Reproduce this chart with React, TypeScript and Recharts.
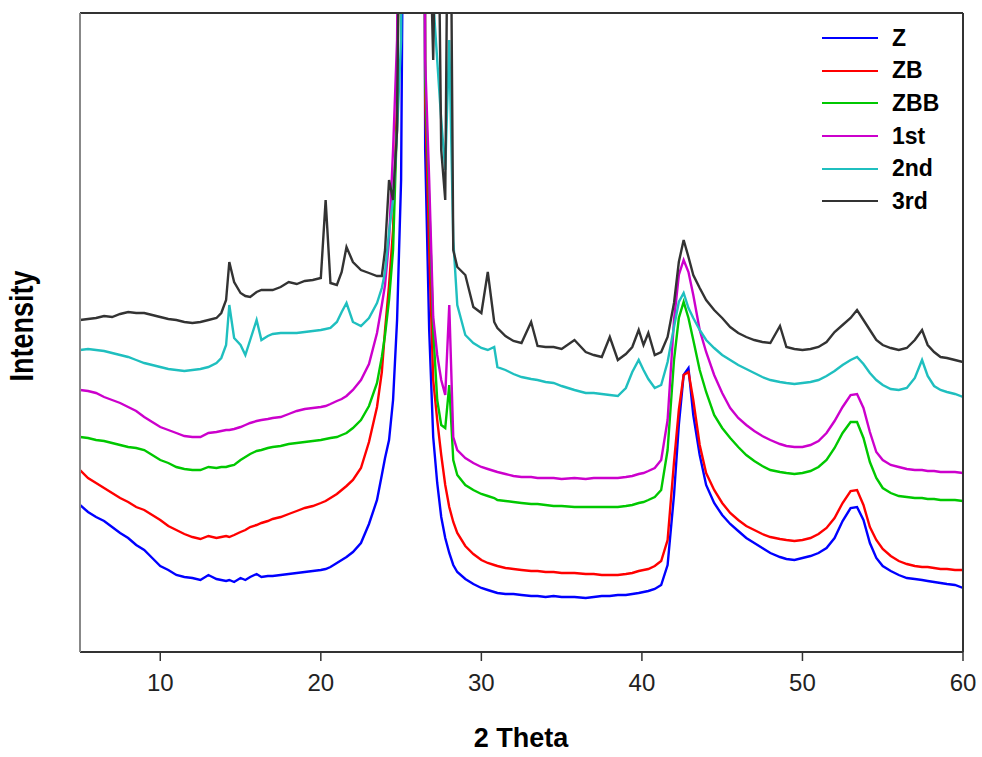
import { LineChart, Line, XAxis, YAxis, Legend, Label } from "recharts";

// 2 theta sampling positions (degrees)
const twoTheta = [
  5, 5.5, 6, 6.5, 7, 7.5, 8, 8.5, 9, 9.5,
  10, 10.5, 11, 11.5, 12, 12.5, 13, 13.5, 13.8, 14.1,
  14.3, 14.6, 15, 15.3, 15.6, 16, 16.3, 16.7, 17, 17.5,
  18, 18.5, 19, 19.5, 20, 20.3, 20.6, 21, 21.3, 21.6,
  22, 22.5, 23, 23.5, 23.8, 24, 24.25, 24.5, 24.75, 25,
  25.25, 25.75, 26.25, 26.5, 26.75, 27, 27.25, 27.5, 27.75, 28,
  28.25, 28.5, 29, 29.5, 30, 30.4, 30.8, 31, 31.5, 32,
  32.5, 33.1, 33.5, 34, 34.5, 35, 35.8, 36.5, 37, 37.5,
  38, 38.5, 39, 39.4, 39.8, 40.1, 40.4, 40.8, 41.2, 41.6,
  42, 42.3, 42.6, 42.9, 43.2, 43.6, 44, 44.5, 45, 45.5,
  46, 46.5, 47, 47.5, 48, 48.6, 49, 49.5, 50, 50.5,
  51, 51.5, 52, 52.5, 53, 53.4, 53.8, 54.2, 54.6, 55,
  55.5, 56, 56.5, 57, 57.45, 57.8, 58.2, 58.6, 59, 59.5,
  60,
];

// intensities (a.u.)
const zVals = [
  147, 140, 135, 131, 125, 119, 114, 107, 102, 94,
  86, 82, 77, 75, 74, 72, 77, 73, 72, 71,
  72, 70, 74, 72, 75, 78, 75, 76, 76, 77,
  78, 79, 80, 81, 82, 83, 85, 89, 92, 95,
  100, 109, 128, 152, 177, 194, 212, 252, 332, 472,
  1052, 2152, 2152, 502, 322, 215, 169, 135, 114, 99,
  87, 80, 73, 68, 64, 62, 60, 59, 58, 58,
  57, 56, 56, 55, 56, 55, 55, 54, 55, 56,
  56, 57, 57, 58, 59, 60, 61, 63, 67, 87,
  157, 227, 277, 284, 237, 197, 167, 149, 137, 128,
  121, 114, 109, 104, 99, 95, 93, 92, 94, 96,
  99, 104, 114, 131, 144, 145, 132, 109, 94, 86,
  81, 77, 74, 73, 72, 71, 70, 69, 68, 67,
  64,
];

const zbVals = [
  182, 174, 169, 164, 159, 154, 150, 145, 142, 137,
  132, 126, 122, 118, 115, 113, 116, 114, 115, 116,
  115, 117, 120, 122, 125, 127, 129, 131, 133, 135,
  138, 141, 144, 146, 149, 151, 154, 158, 162, 166,
  172, 184, 210, 245, 280, 322, 367, 422, 552, 952,
  1652, 2152, 2152, 552, 402, 272, 232, 197, 167, 145,
  130, 119, 106, 98, 92, 89, 87, 86, 84, 83,
  82, 81, 81, 80, 80, 79, 79, 78, 78, 77,
  77, 77, 78, 79, 81, 82, 83, 86, 91, 112,
  190, 242, 277, 280, 252, 207, 179, 162, 149, 139,
  132, 126, 122, 118, 115, 113, 112, 111, 112, 114,
  118, 124, 134, 149, 161, 162, 147, 125, 112, 103,
  96, 91, 88, 86, 85, 85, 84, 83, 83, 82,
  82,
];

const zbbVals = [
  215, 214, 212, 211, 209, 207, 205, 204, 202, 197,
  192, 189, 185, 183, 182, 182, 185, 184, 185, 185,
  186, 187, 192, 195, 198, 201, 202, 204, 205, 206,
  208, 209, 210, 211, 212, 213, 214, 215, 217, 219,
  224, 232, 246, 269, 295, 317, 352, 402, 532, 952,
  1652, 2152, 2152, 572, 452, 322, 252, 227, 224, 267,
  192, 177, 167, 162, 158, 156, 154, 152, 151, 150,
  149, 148, 148, 147, 146, 146, 145, 145, 145, 145,
  145, 145, 146, 147, 149, 150, 152, 155, 162, 202,
  292, 334, 350, 334, 312, 282, 260, 237, 224, 214,
  205, 197, 191, 186, 182, 180, 179, 178, 179, 181,
  185, 192, 204, 219, 230, 230, 214, 190, 174, 164,
  159, 156, 155, 154, 154, 153, 153, 152, 152, 152,
  151,
];

const firstVals = [
  262, 261, 259, 255, 252, 249, 245, 241, 235, 230,
  225, 222, 219, 216, 215, 215, 219, 220, 221, 222,
  222, 223, 225, 227, 229, 231, 232, 233, 234, 235,
  238, 241, 243, 244, 245, 246, 248, 251, 253, 256,
  262, 272, 288, 319, 347, 367, 412, 502, 612, 1052,
  1652, 2152, 2152, 592, 472, 335, 297, 272, 257, 347,
  215, 202, 194, 189, 185, 183, 181, 180, 178, 176,
  175, 175, 174, 174, 174, 173, 174, 173, 174, 174,
  174, 174, 175, 176, 178, 179, 181, 184, 192, 232,
  332, 377, 392, 380, 357, 322, 300, 277, 259, 244,
  234, 227, 221, 216, 212, 208, 206, 205, 205, 207,
  211, 219, 231, 245, 257, 258, 244, 220, 200, 192,
  187, 185, 183, 182, 182, 181, 181, 180, 180, 180,
  179,
];

const secondVals = [
  302, 303, 302, 301, 299, 297, 295, 292, 289, 287,
  285, 283, 282, 281, 282, 283, 285, 289, 294, 307,
  347, 314, 307, 297, 312, 332, 312, 316, 318, 319,
  319, 319, 320, 321, 322, 323, 324, 330, 340, 349,
  330, 326, 334, 349, 364, 380, 420, 452, 522, 612,
  1252, 2152, 2152, 952, 752, 652, 592, 532, 482, 612,
  412, 347, 317, 309, 304, 302, 305, 285, 282, 278,
  275, 273, 272, 270, 269, 266, 262, 259, 259, 258,
  257, 256, 264, 280, 292, 282, 273, 264, 267, 290,
  325, 350, 359, 344, 334, 322, 312, 304, 297, 292,
  287, 283, 279, 275, 272, 270, 269, 268, 269, 270,
  272, 276, 281, 287, 292, 295, 288, 279, 272, 267,
  263, 262, 264, 274, 292, 276, 266, 262, 260, 258,
  255,
];

const thirdVals = [
  332, 333, 334, 336, 335, 338, 340, 339, 339, 337,
  335, 333, 332, 330, 329, 330, 332, 334, 339, 352,
  390, 370, 359, 356, 355, 360, 362, 362, 362, 365,
  370, 368, 371, 372, 374, 452, 369, 367, 380, 405,
  390, 382, 379, 376, 376, 402, 472, 452, 522, 952,
  1652, 2152, 2152, 952, 752, 592, 852, 502, 452, 952,
  402, 385, 377, 345, 339, 380, 330, 324, 316, 311,
  309, 330, 306, 305, 305, 303, 312, 300, 297, 295,
  315, 292, 298, 305, 322, 307, 319, 297, 300, 315,
  349, 390, 412, 395, 377, 364, 352, 342, 334, 325,
  319, 315, 312, 310, 309, 326, 305, 303, 302, 303,
  305, 310, 320, 327, 334, 342, 332, 322, 312, 307,
  304, 302, 304, 312, 322, 307, 300, 295, 294, 292,
  290,
];

const xTicks = [10, 20, 30, 40, 50, 60];

const seriesNames = ["Z", "ZB", "ZBB", "1st", "2nd", "3rd"];
const seriesColors = ["#0000ff", "#ff0000", "#00c800", "#cc00cc", "#1fbfbf", "#333333"];
const seriesVals = [zVals, zbVals, zbbVals, firstVals, secondVals, thirdVals];

const data = twoTheta.map((x, i) => {
  const row: Record<string, number> = { x };
  seriesNames.forEach((name, s) => {
    row[name] = seriesVals[s][i];
  });
  return row;
});

const FONT = "'Liberation Sans', Arial, sans-serif";

function LegendBox() {
  return (
    <div style={{ fontFamily: FONT, fontWeight: "bold", fontSize: 23, color: "#000" }}>
      {seriesNames.map((name, i) => (
        <div key={name} style={{ display: "flex", alignItems: "center", height: 32.6 }}>
          <svg width={56} height={4}>
            <line x1={0} y1={2} x2={56} y2={2} stroke={seriesColors[i]} strokeWidth={2} />
          </svg>
          <span style={{ marginLeft: 14 }}>{name}</span>
        </div>
      ))}
    </div>
  );
}

export default function App() {
  return (
    <div style={{ position: "absolute", left: 0, top: 0, background: "#fff" }}>
      <LineChart
        width={982}
        height={757}
        data={data}
        margin={{ top: 12, right: 18, left: 79, bottom: 0 }}
      >
        <XAxis
          dataKey="x"
          type="number"
          domain={[5, 60]}
          ticks={xTicks}
          allowDataOverflow
          height={105}
          tickSize={9}
          tickMargin={13}
          axisLine={{ stroke: "#333", strokeWidth: 2 }}
          tickLine={{ stroke: "#333", strokeWidth: 1.5 }}
          tick={{ fill: "#222", fontSize: 24, fontFamily: FONT }}
        >
          <Label
            content={() => (
              <text
                x={521}
                y={747}
                textAnchor="middle"
                style={{ fontFamily: FONT, fontWeight: "bold", fontSize: 27, fill: "#000" }}
              >
                2 Theta
              </text>
            )}
          />
        </XAxis>
        <XAxis
          xAxisId="top"
          dataKey="x"
          type="number"
          domain={[5, 60]}
          orientation="top"
          height={1}
          tick={false}
          tickLine={false}
          axisLine={{ stroke: "#333", strokeWidth: 2 }}
        />
        <YAxis
          domain={[0, 639]}
          allowDataOverflow
          width={1}
          tick={false}
          tickLine={false}
          axisLine={{ stroke: "#888", strokeWidth: 2 }}
        >
          <Label
            content={() => (
              <text
                transform="translate(33 326) rotate(-90) scale(1 1.2)"
                textAnchor="middle"
                style={{ fontFamily: FONT, fontWeight: "bold", fontSize: 27, fill: "#000" }}
              >
                Intensity
              </text>
            )}
          />
        </YAxis>
        <YAxis
          yAxisId="right"
          orientation="right"
          domain={[0, 639]}
          width={1}
          tick={false}
          tickLine={false}
          axisLine={{ stroke: "#333", strokeWidth: 2 }}
        />
        <Legend
          layout="horizontal"
          verticalAlign="middle"
          align="center"
          content={() => <LegendBox />}
          wrapperStyle={{ position: "absolute", left: 822, top: 22, width: 150, height: 200 }}
        />
        {seriesNames.map((name, i) => (
          <Line
            key={name}
            type="linear"
            dataKey={name}
            stroke={seriesColors[i]}
            strokeWidth={2.4}
            dot={false}
            activeDot={false}
            isAnimationActive={false}
          />
        ))}
      </LineChart>
    </div>
  );
}
